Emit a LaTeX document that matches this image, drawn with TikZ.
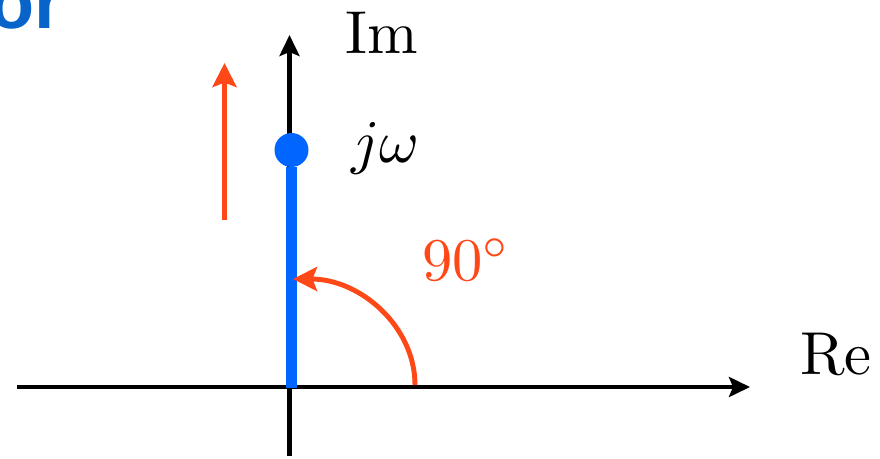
\documentclass[tikz,border=0pt]{standalone}
\usepackage[no-math]{fontspec}
\newfontfamily\titlefont{Liberation Sans}
\usetikzlibrary{arrows.meta}

\definecolor{phasored}{RGB}{255,72,24}
\definecolor{phasorblue}{RGB}{0,102,255}
\definecolor{titleblue}{RGB}{8,100,200}

\begin{document}
\begin{tikzpicture}[
  x=0.02cm, y=0.02cm,
  axis/.style  = {line width=2.3pt, -{Stealth[length=0.42cm, width=0.4cm, inset=0.08cm]}},
  rot/.style   = {line width=2.8pt, phasored, -{Stealth[length=0.48cm, width=0.48cm, inset=0.09cm]}},
  vec/.style   = {line width=5.7pt, phasorblue},
  lbl/.style   = {inner sep=0pt, font=\normalsize, scale=3.45, transform shape},
]
  \useasboundingbox (0,0) rectangle (880,458);

  \node[inner sep=0pt, anchor=base east, text=titleblue,
        font=\titlefont\bfseries\fontsize{42}{50}\selectfont] (title) at (64,430) {or};

  \coordinate (O)   at (289.5,71);
  \coordinate (xl)  at (17,71);
  \coordinate (xr)  at (750,71);
  \coordinate (yb)  at (289.5,2);
  \coordinate (yt)  at (289.5,423);

  \coordinate (vb)  at (291.5,70);
  \coordinate (rb)  at (224.5,238);
  \coordinate (rt)  at (224.5,395);
  \coordinate (arc) at (415,73);

  \draw[axis] (xl) -- (xr);
  \draw[axis] (yb) -- (yt);

  % phasor
  \node[circle, fill=phasorblue, minimum size=0.68cm, inner sep=0pt] (tip) at (291.5,308) {};
  \draw[vec]  (vb) -- (tip);

  \draw[rot] (rb) -- (rt);
  \draw[rot] (arc) arc[start angle=0, end angle=90, x radius=122, y radius=106];

  \node[lbl, anchor=base west] (im) at (344,405) {$\mathrm{Im}$};
  \node[lbl, anchor=base west] (re) at (799,84)  {$\mathrm{Re}$};
  \node[lbl, anchor=base west] (jw) at (350,296) {$j\omega$};
  \node[lbl, anchor=base west, text=phasored] (deg) at (421,178) {$90^\circ$};
\end{tikzpicture}
\end{document}
